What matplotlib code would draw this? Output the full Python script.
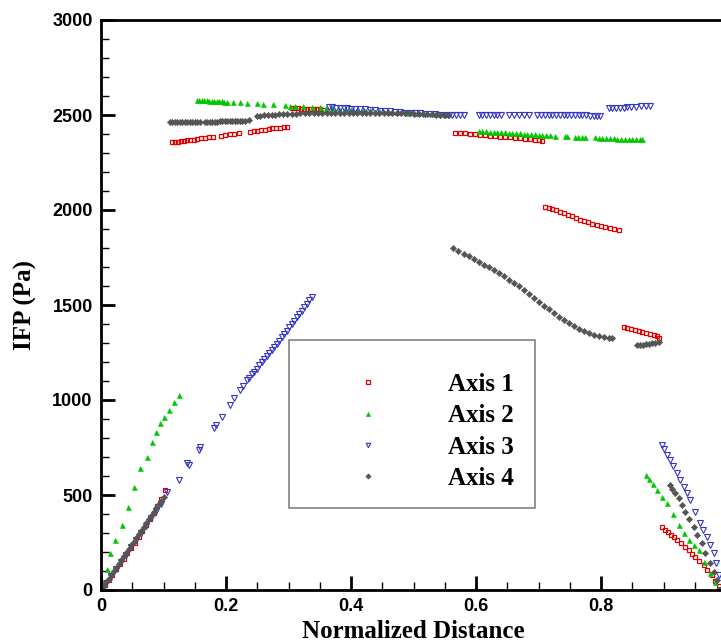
import numpy as np
import matplotlib
matplotlib.use("Agg")
import matplotlib.pyplot as plt
from matplotlib.patches import Rectangle
from matplotlib.ticker import MultipleLocator, FixedLocator

# Axis 1: IFP along the first axis (several disjoint segments)
axis1_x = [0.0, 0.006, 0.012, 0.018, 0.024, 0.030, 0.036, 0.042, 0.048, 0.054, 0.060, 0.066, 0.072, 0.078, 0.084, 0.090, 0.096, 0.102,
           0.113, 0.118, 0.123, 0.128, 0.133, 0.138, 0.143, 0.148, 0.154, 0.160, 0.166, 0.172, 0.179, 0.192, 0.199, 0.206, 0.213, 0.220,
           0.238, 0.244, 0.250, 0.256, 0.262, 0.268, 0.274, 0.280, 0.286, 0.292, 0.297,
           0.305, 0.310, 0.315, 0.320, 0.325, 0.330, 0.335, 0.340, 0.345, 0.350, 0.355,
           0.566, 0.574, 0.582, 0.590, 0.598, 0.606, 0.614, 0.622, 0.630, 0.638, 0.646, 0.654, 0.662, 0.670, 0.678, 0.686, 0.694, 0.700, 0.705,
           0.710, 0.716, 0.722, 0.728, 0.734, 0.740, 0.747, 0.754, 0.760, 0.766, 0.772, 0.779, 0.786, 0.793, 0.800, 0.807, 0.814, 0.821, 0.828,
           0.836, 0.842, 0.848, 0.854, 0.860, 0.866, 0.872, 0.878, 0.884, 0.890, 0.892,
           0.897, 0.902, 0.907, 0.912, 0.916, 0.922, 0.928, 0.934, 0.940, 0.945, 0.950, 0.957, 0.964, 0.970, 0.977, 0.983, 0.988, 0.992]
axis1_y = [0, 25, 52, 80, 108, 136, 164, 193, 222, 250, 280, 310, 340, 372, 405, 440, 480, 526,
           2356, 2358, 2360, 2362, 2364, 2367, 2369, 2371, 2374, 2377, 2380, 2382, 2385, 2392, 2395, 2398, 2401, 2404,
           2412, 2415, 2418, 2420, 2423, 2426, 2429, 2431, 2434, 2437, 2439,
           2536, 2535, 2535, 2534, 2533, 2532, 2532, 2531, 2530, 2529, 2528,
           2407, 2405, 2403, 2400, 2398, 2396, 2393, 2391, 2389, 2386, 2384, 2382, 2379, 2377, 2375, 2373, 2370, 2368, 2365,
           2017, 2012, 2005, 1999, 1992, 1984, 1976, 1968, 1960, 1950, 1942, 1935, 1928, 1921, 1915, 1909, 1903, 1898, 1895,
           1386, 1381, 1376, 1371, 1365, 1358, 1352, 1346, 1340, 1335, 1326,
           330, 316, 303, 292, 281, 264, 246, 228, 210, 190, 172, 152, 132, 106, 79, 50, 22, 0]

# Axis 2
axis2_x = [0.0, 0.004, 0.009, 0.0144, 0.0224, 0.033, 0.0437, 0.052, 0.0624, 0.073, 0.081, 0.088, 0.0944, 0.101, 0.108, 0.116, 0.124,
           0.153, 0.157, 0.161, 0.165, 0.169, 0.173, 0.177, 0.181, 0.185, 0.189, 0.193, 0.197, 0.201, 0.211, 0.222, 0.233, 0.249, 0.259,
           0.275, 0.294, 0.302, 0.310, 0.323, 0.338, 0.350, 0.360, 0.370, 0.380, 0.390, 0.400, 0.410, 0.420,
           0.430, 0.445, 0.460, 0.475, 0.490, 0.505, 0.520, 0.535, 0.550,
           0.604, 0.610, 0.616, 0.622, 0.628, 0.634, 0.640, 0.646, 0.652, 0.658, 0.664, 0.670, 0.676, 0.682, 0.688, 0.694, 0.700, 0.706,
           0.712, 0.718, 0.726, 0.742, 0.746, 0.758, 0.763, 0.770, 0.774, 0.790, 0.796, 0.802, 0.808, 0.814, 0.820, 0.826, 0.832, 0.838,
           0.844, 0.850, 0.856, 0.862, 0.865,
           0.872, 0.877, 0.883, 0.889, 0.897, 0.905, 0.915, 0.924, 0.932, 0.940, 0.948, 0.956, 0.965, 0.974, 0.983, 0.990]
axis2_y = [0, 35, 110, 193, 263, 342, 438, 544, 640, 702, 781, 830, 877, 912, 947, 990, 1026,
           2580, 2579, 2578, 2577, 2577, 2576, 2575, 2574, 2573, 2572, 2572, 2571, 2570, 2568, 2566, 2564, 2561, 2559,
           2556, 2552, 2550, 2549, 2546, 2543, 2541, 2538, 2536, 2534, 2532, 2530, 2528, 2526,
           2524, 2521, 2518, 2515, 2513, 2510, 2508, 2505, 2503,
           2417, 2415, 2414, 2413, 2411, 2410, 2409, 2408, 2406, 2405, 2404, 2403, 2401, 2400, 2399, 2398, 2397, 2396,
           2394, 2393, 2392, 2389, 2388, 2386, 2386, 2385, 2384, 2382, 2381, 2380, 2379, 2378, 2377, 2376, 2376, 2375,
           2374, 2374, 2373, 2373, 2372,
           605, 585, 556, 526, 490, 456, 400, 342, 300, 263, 236, 210, 150, 88, 40, 0]

# Axis 3
axis3_x = [0.0, 0.008, 0.016, 0.024, 0.032, 0.040, 0.048, 0.056, 0.064, 0.072, 0.080, 0.088, 0.096, 0.105, 0.124, 0.137, 0.141,
           0.156, 0.159, 0.180, 0.184, 0.193, 0.206, 0.213, 0.222, 0.227, 0.233, 0.237, 0.241, 0.245, 0.249, 0.253, 0.257, 0.261,
           0.265, 0.269, 0.273, 0.277, 0.281, 0.285, 0.289, 0.293, 0.297, 0.301, 0.305, 0.309, 0.313, 0.317, 0.321, 0.325, 0.329,
           0.333, 0.337,
           0.364, 0.370, 0.376, 0.382, 0.388, 0.394, 0.400, 0.406, 0.414, 0.422, 0.430, 0.438, 0.446, 0.454, 0.462, 0.470, 0.478,
           0.486, 0.494, 0.502, 0.510, 0.518, 0.526, 0.534, 0.542, 0.550, 0.556, 0.562, 0.568, 0.574, 0.580,
           0.604, 0.610, 0.616, 0.622, 0.628, 0.634, 0.640, 0.652, 0.660, 0.668, 0.676, 0.684, 0.698, 0.704, 0.710, 0.716, 0.722,
           0.728, 0.734, 0.740, 0.746, 0.752, 0.758, 0.764, 0.770, 0.776, 0.782, 0.788, 0.794, 0.798,
           0.812, 0.818, 0.824, 0.830, 0.836, 0.842, 0.848, 0.856, 0.864, 0.872, 0.878,
           0.897, 0.901, 0.906, 0.910, 0.915, 0.921, 0.926, 0.932, 0.937, 0.942, 0.950, 0.958, 0.963, 0.969, 0.975, 0.980, 0.984,
           0.988, 0.992]
axis3_y = [0, 35, 72, 110, 148, 186, 224, 262, 300, 338, 377, 415, 455, 517, 579, 667, 660,
           737, 755, 851, 868, 912, 974, 1008, 1053, 1075, 1105, 1118, 1135, 1150, 1165, 1182, 1198, 1214,
           1230, 1246, 1263, 1280, 1296, 1313, 1330, 1347, 1365, 1382, 1400, 1417, 1435, 1452, 1470, 1488, 1506,
           1525, 1544,
           2541, 2540, 2538, 2537, 2536, 2535, 2534, 2532, 2531, 2529, 2527, 2525, 2523, 2521, 2519, 2517, 2515,
           2513, 2511, 2510, 2508, 2506, 2504, 2503, 2502, 2501, 2500, 2500, 2499, 2499, 2498,
           2500, 2500, 2500, 2500, 2500, 2500, 2500, 2500, 2500, 2500, 2500, 2500, 2499, 2499, 2499, 2499, 2499,
           2499, 2499, 2498, 2498, 2498, 2498, 2498, 2498, 2498, 2497, 2497, 2497, 2497,
           2535, 2536, 2537, 2538, 2539, 2540, 2541, 2543, 2545, 2547, 2549,
           763, 740, 712, 684, 652, 614, 580, 544, 508, 474, 410, 351, 315, 281, 235, 193, 140,
           80, 0]

# Axis 4
axis4_x = [0.0, 0.004, 0.008, 0.012, 0.016, 0.020, 0.024, 0.028, 0.032, 0.036, 0.040, 0.044, 0.048, 0.052, 0.056, 0.060, 0.064,
           0.068, 0.072, 0.076, 0.080, 0.084, 0.088, 0.092, 0.096, 0.100,
           0.110, 0.114, 0.118, 0.122, 0.126, 0.130, 0.134, 0.138, 0.142, 0.146, 0.150, 0.154, 0.158,
           0.166, 0.170, 0.174, 0.178, 0.182, 0.186, 0.190, 0.194, 0.198, 0.202, 0.206, 0.210, 0.214, 0.218, 0.222, 0.226, 0.230, 0.236,
           0.249, 0.255, 0.261, 0.267, 0.273, 0.279, 0.285, 0.291, 0.298, 0.305, 0.312, 0.319, 0.326, 0.333, 0.340, 0.347, 0.354,
           0.361, 0.368, 0.375, 0.382, 0.389, 0.396, 0.403, 0.410, 0.417, 0.424, 0.431, 0.438, 0.445, 0.452, 0.459, 0.466, 0.473,
           0.480, 0.487, 0.494, 0.501, 0.508, 0.515, 0.522, 0.529, 0.536, 0.543, 0.549, 0.555,
           0.564, 0.572, 0.580, 0.588, 0.596, 0.604, 0.612, 0.620, 0.628, 0.636, 0.644, 0.652, 0.660, 0.668, 0.676, 0.684, 0.692,
           0.700, 0.708, 0.716, 0.724, 0.732, 0.740, 0.748, 0.756, 0.764, 0.772, 0.780, 0.788, 0.796, 0.804, 0.812, 0.817,
           0.857, 0.862, 0.867, 0.872, 0.877, 0.882, 0.887, 0.892,
           0.910, 0.914, 0.919, 0.924, 0.929, 0.934, 0.941, 0.948, 0.954, 0.961, 0.967, 0.974, 0.980, 0.985, 0.990]
axis4_y = [0, 20, 40, 60, 79, 99, 118, 138, 157, 177, 196, 216, 235, 255, 274, 294, 313,
           333, 352, 372, 392, 411, 431, 451, 470, 490,
           2461, 2461, 2462, 2462, 2462, 2463, 2463, 2463, 2464, 2464, 2464, 2465, 2465,
           2463, 2463, 2464, 2464, 2465, 2465, 2466, 2466, 2467, 2467, 2468, 2468, 2469, 2469, 2470, 2470, 2471, 2472,
           2495, 2497, 2498, 2500, 2501, 2502, 2503, 2504, 2505, 2506, 2507, 2508, 2508, 2509, 2510, 2510, 2511,
           2511, 2512, 2512, 2512, 2513, 2513, 2513, 2513, 2513, 2513, 2512, 2512, 2512, 2511, 2511, 2510, 2510,
           2509, 2508, 2508, 2507, 2506, 2505, 2504, 2503, 2502, 2501, 2500, 2499,
           1798, 1785, 1771, 1757, 1742, 1728, 1713, 1698, 1683, 1667, 1651, 1634, 1616, 1598, 1579, 1559, 1538,
           1517, 1497, 1477, 1457, 1438, 1420, 1403, 1388, 1374, 1362, 1352, 1344, 1337, 1332, 1328, 1325,
           1289, 1290, 1292, 1294, 1296, 1299, 1302, 1307,
           553, 533, 508, 483, 448, 412, 372, 333, 290, 246, 195, 140, 95, 55, 0]

series_labels = ["Axis 1", "Axis 2", "Axis 3", "Axis 4"]
x_ticks = [0, 0.2, 0.4, 0.6, 0.8, 1.0]
x_tick_labels = ["0", "0.2", "0.4", "0.6", "0.8", ""]
y_ticks = [0, 500, 1000, 1500, 2000, 2500, 3000]

W, H = 721, 641
fig = plt.figure(figsize=(W / 100, H / 100), dpi=100)
# axes box runs slightly past the right edge of the figure
ax = fig.add_axes([101 / W, 1 - 590 / H, 625 / W, 570 / H])

ax.plot(axis1_x, axis1_y, ls="none", marker="s", ms=3.2, mfc="none", mec="#e00000", mew=0.9, label=series_labels[0])
ax.plot(axis2_x, axis2_y, ls="none", marker="^", ms=3.6, mfc="#00c800", mec="#00c800", mew=0.4, label=series_labels[1])
ax.plot(axis3_x, axis3_y, ls="none", marker="v", ms=3.8, mfc="none", mec="#3535c8", mew=0.8, label=series_labels[2])
ax.plot(axis4_x, axis4_y, ls="none", marker="D", ms=3.2, mfc="#555555", mec="#555555", mew=0.4, label=series_labels[3])

ax.set_xlim(0, 1)
ax.set_ylim(0, 3000)
ax.xaxis.set_major_locator(FixedLocator(x_ticks))
ax.set_xticklabels(x_tick_labels)
ax.xaxis.set_minor_locator(MultipleLocator(0.05))
ax.yaxis.set_major_locator(FixedLocator(y_ticks))
ax.yaxis.set_minor_locator(MultipleLocator(100))

ax.tick_params(which="both", direction="in", top=False, right=False)
ax.tick_params(which="major", length=10, width=2.0, pad=6)
ax.tick_params(which="minor", length=5.5, width=1.0)
for lbl in ax.get_xticklabels() + ax.get_yticklabels():
    lbl.set_fontfamily("Liberation Sans")
    lbl.set_fontweight("bold")
    lbl.set_fontsize(13)

for sp in ax.spines.values():
    sp.set_linewidth(2.0)

ax.set_xlabel("Normalized Distance", family="Liberation Serif", weight="bold", fontsize=18, labelpad=3)
ax.set_ylabel("IFP (Pa)", family="Liberation Serif", weight="bold", fontsize=18, labelpad=11)

# legend box
box = Rectangle((289 / W, 1 - 508 / H), 246 / W, 168 / H, transform=fig.transFigure,
                facecolor="none", edgecolor="#808080", linewidth=1.2, zorder=5)
ax.add_patch(box)
leg = ax.legend(loc="upper left", bbox_to_anchor=(355 / W, 1 - 373 / H), bbox_transform=fig.transFigure,
                frameon=False, borderpad=0, borderaxespad=0, handlelength=1.0, handletextpad=2.7,
                labelspacing=0.33, markerscale=0.85,
                prop={"family": "Liberation Serif", "weight": "bold", "size": 18})
leg.set_zorder(6)

fig.savefig("out.png", dpi=100)
